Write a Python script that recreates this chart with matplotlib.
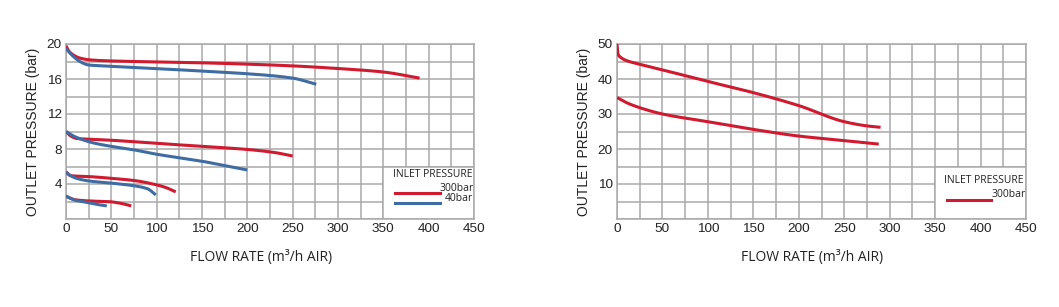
import numpy as np
import matplotlib as mpl
import matplotlib.pyplot as plt
from matplotlib.patches import Rectangle

# left chart: outlet pressure vs flow, two inlet pressures
red_20_x = [0, 3, 8, 15, 25, 40, 75, 150, 200, 250, 300, 350, 390]
red_20_y = [19.8, 19.2, 18.75, 18.4, 18.2, 18.1, 18.0, 17.85, 17.7, 17.5, 17.2, 16.8, 16.1]
blue_20_x = [0, 4, 10, 17, 25, 40, 100, 150, 200, 250, 276]
blue_20_y = [19.5, 19.0, 18.4, 17.9, 17.6, 17.5, 17.2, 16.9, 16.6, 16.1, 15.4]

red_10_x = [0, 5, 12, 30, 50, 100, 150, 200, 230, 250]
red_10_y = [10.0, 9.5, 9.2, 9.1, 9.0, 8.65, 8.3, 7.95, 7.6, 7.2]
blue_10_x = [0, 10, 30, 50, 75, 100, 125, 150, 175, 200]
blue_10_y = [10.0, 9.4, 8.7, 8.3, 7.9, 7.4, 7.0, 6.6, 6.1, 5.6]

red_5_x = [0, 5, 25, 50, 75, 100, 110, 121]
red_5_y = [5.4, 4.95, 4.85, 4.65, 4.4, 3.9, 3.6, 3.1]
blue_5_x = [0, 10, 25, 50, 75, 90, 99]
blue_5_y = [5.3, 4.7, 4.35, 4.1, 3.8, 3.45, 2.75]

red_2_x = [0, 10, 26, 48, 60, 72]
red_2_y = [2.6, 2.2, 2.06, 1.98, 1.8, 1.5]
blue_2_x = [0, 10, 23, 35, 45]
blue_2_y = [2.6, 2.15, 1.9, 1.65, 1.5]

# right chart
r_hi_x = [0, 1, 5, 10, 25, 50, 100, 150, 200, 250, 275, 290]
r_hi_y = [50, 47.2, 46.0, 45.3, 44.2, 42.6, 39.3, 36.1, 32.4, 27.8, 26.6, 26.2]
r_lo_x = [0, 10, 25, 50, 100, 150, 200, 250, 288]
r_lo_y = [34.7, 33.3, 31.8, 30.0, 27.8, 25.6, 23.7, 22.4, 21.4]

RED = '#cf1a30'
BLUE = '#3f6ca3'
GRID = '#a9a9a9'
TXT = '#222222'


def pchip(x, y, n=300):
    # monotone cubic (Fritsch-Carlson) so the curves look drawn, not kinked
    x = np.asarray(x, float)
    y = np.asarray(y, float)
    h = np.diff(x)
    d = np.diff(y) / h
    m = np.zeros_like(y)
    for i in range(1, len(x) - 1):
        if d[i - 1] * d[i] > 0:
            w1 = 2 * h[i] + h[i - 1]
            w2 = h[i] + 2 * h[i - 1]
            m[i] = (w1 + w2) / (w1 / d[i - 1] + w2 / d[i])
    m[0] = d[0]
    m[-1] = d[-1]
    xs = np.linspace(x[0], x[-1], n)
    idx = np.clip(np.searchsorted(x, xs) - 1, 0, len(x) - 2)
    t = (xs - x[idx]) / h[idx]
    h00 = 2 * t**3 - 3 * t**2 + 1
    h10 = t**3 - 2 * t**2 + t
    h01 = -2 * t**3 + 3 * t**2
    h11 = t**3 - t**2
    ys = h00 * y[idx] + h10 * h[idx] * m[idx] + h01 * y[idx + 1] + h11 * h[idx] * m[idx + 1]
    return xs, ys


fig = plt.figure(figsize=(10.59, 3.07), dpi=100)


def setup(ax, ymax, ystep, ylabels):
    ax.set_xlim(0, 450)
    ax.set_ylim(0, ymax)
    ax.set_xticks(np.arange(0, 451, 25))
    ax.set_yticks(np.arange(0, ymax + 0.01, ystep))
    ax.grid(True, color=GRID, lw=1.1, zorder=0)
    ax.set_axisbelow(True)
    ax.set_xticklabels([str(v) if v % 50 == 0 else '' for v in range(0, 451, 25)])
    ax.set_yticklabels(ylabels)
    ax.tick_params(length=0, labelsize=9.7, colors=TXT, pad=3)
    for s in ax.spines.values():
        s.set_color(GRID)
        s.set_linewidth(1.1)
    ax.set_ylabel('OUTLET PRESSURE (bar)', fontsize=10, color=TXT,
                  family='Liberation Sans', labelpad=5)
    for lab in ax.get_xticklabels() + ax.get_yticklabels():
        lab.set_family('Liberation Sans')


ax1 = fig.add_axes([66/1059, 88/307, 408/1059, 175/307])
setup(ax1, 20, 2, ['' if v % 4 or v == 0 else str(v) for v in range(0, 21, 2)])
for x, y, c in [(red_20_x, red_20_y, RED), (blue_20_x, blue_20_y, BLUE),
                (red_10_x, red_10_y, RED), (blue_10_x, blue_10_y, BLUE),
                (red_5_x, red_5_y, RED), (blue_5_x, blue_5_y, BLUE),
                (red_2_x, red_2_y, RED), (blue_2_x, blue_2_y, BLUE)]:
    xs, ys = pchip(x, y)
    ax1.plot(xs, ys, color=c, lw=2.2, zorder=3, solid_capstyle='butt')

ax1.add_patch(Rectangle((350, 0), 100, 6, facecolor='white', edgecolor=GRID, lw=1.1, zorder=2))
ax1.text(361, 5.1, 'INLET PRESSURE', fontsize=7.5, family='Open Sans', color=TXT, va='center', zorder=4)
ax1.plot([363, 412], [2.97, 2.97], color=RED, lw=2.2, zorder=4)
ax1.text(449.5, 3.45, '300bar', fontsize=7.5, family='Open Sans', color=TXT, va='center', ha='right', zorder=4)
ax1.plot([363, 412], [1.83, 1.83], color=BLUE, lw=2.2, zorder=4)
ax1.text(449.5, 2.3, '40bar', fontsize=7.5, family='Open Sans', color=TXT, va='center', ha='right', zorder=4)

ax2 = fig.add_axes([617/1059, 88/307, 409/1059, 175/307])
setup(ax2, 50, 5, ['' if v % 10 or v == 0 else str(v) for v in range(0, 51, 5)])
for x, y in [(r_hi_x, r_hi_y), (r_lo_x, r_lo_y)]:
    xs, ys = pchip(x, y)
    ax2.plot(xs, ys, color=RED, lw=2.2, zorder=3, solid_capstyle='butt')

ax2.add_patch(Rectangle((350, 0), 100, 15, facecolor='white', edgecolor=GRID, lw=1.1, zorder=2))
ax2.text(360, 11.1, 'INLET PRESSURE', fontsize=7.5, family='Open Sans', color=TXT, va='center', zorder=4)
ax2.plot([363, 411], [5.4, 5.4], color=RED, lw=2.2, zorder=4)
ax2.text(449.5, 6.9, '300bar', fontsize=7.5, family='Open Sans', color=TXT, va='center', ha='right', zorder=4)

fig.text(261/1059, 1 - 257/307, 'FLOW RATE (m\u00b3/h AIR)', fontsize=10, family='Open Sans',
         color=TXT, ha='center', va='center')
fig.text(812/1059, 1 - 257/307, 'FLOW RATE (m\u00b3/h AIR)', fontsize=10, family='Open Sans',
         color=TXT, ha='center', va='center')

fig.savefig('out.png', dpi=100, facecolor='white')
